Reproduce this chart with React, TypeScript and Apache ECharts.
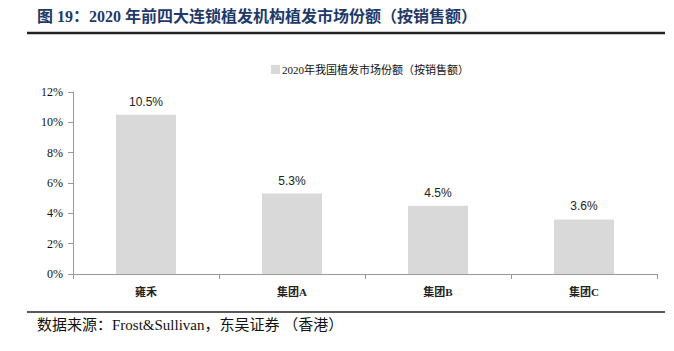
import React, { useEffect, useRef } from "react";
import * as echarts from "echarts";

const categories = ["雍禾", "集团A", "集团B", "集团C"];
const shareValues = [10.5, 5.3, 4.5, 3.6];
const seriesName = "2020年我国植发市场份额（按销售额）";
const titleText = "图 19：2020 年前四大连锁植发机构植发市场份额（按销售额）";
const sourceText = "数据来源：Frost&Sullivan，东吴证券 （香港）";

const SERIF = "'Liberation Serif', 'Noto Sans CJK SC', serif";

export default function App() {
  const ref = useRef<HTMLDivElement>(null);
  useEffect(() => {
    if (!ref.current) return;
    const chart = echarts.init(ref.current, null, { renderer: "svg" });
    chart.setOption({
      animation: false,
      backgroundColor: "#ffffff",
      legend: {
        top: 59,
        left: 266,
        itemWidth: 9,
        itemHeight: 9,
        itemGap: 4,
        icon: "rect",
        textStyle: { fontFamily: SERIF, fontSize: 11, color: "#111", padding: [0, 0, 0, -3] },
        data: [seriesName],
      },
      grid: { left: 73, right: 17, top: 92, bottom: 77, containLabel: false },
      xAxis: {
        type: "category",
        data: categories,
        axisLine: { lineStyle: { color: "#999" } },
        axisTick: { show: true, alignWithLabel: false, lineStyle: { color: "#999" } },
        axisLabel: { fontFamily: SERIF, fontSize: 11, color: "#222", fontWeight: "bold", margin: 12 },
      },
      yAxis: {
        type: "value",
        min: 0,
        max: 12,
        interval: 2,
        axisLine: { show: true, lineStyle: { color: "#999" } },
        axisTick: { show: true, lineStyle: { color: "#999" } },
        splitLine: { show: false },
        axisLabel: { formatter: "{value}%", fontFamily: SERIF, fontSize: 12, color: "#111", margin: 10 },
      },
      series: [
        {
          name: seriesName,
          type: "bar",
          data: shareValues,
          barWidth: 60,
          itemStyle: { color: "#d9d9d9" },
          label: {
            show: true,
            position: "top",
            distance: 7,
            formatter: (p: any) => p.value.toFixed(1) + "%",
            fontFamily: "'Liberation Sans', Arial, sans-serif",
            fontSize: 12,
            color: "#222",
          },
        },
      ],
      graphic: [
        {
          type: "text",
          left: 37,
          top: 8,
          style: {
            text: titleText,
            fontFamily: SERIF,
            fontSize: 16,
            fontWeight: "bold",
            fill: "#1f3a68",
          },
        },
        {
          type: "line",
          shape: { x1: 27, y1: 33, x2: 665, y2: 33 },
          style: { stroke: "#222", lineWidth: 2.5 },
        },
        {
          type: "line",
          shape: { x1: 27, y1: 312, x2: 665, y2: 312 },
          style: { stroke: "#222", lineWidth: 1.5 },
        },
        {
          type: "text",
          left: 37,
          top: 317,
          style: {
            text: sourceText,
            fontFamily: SERIF,
            fontSize: 15,
            fill: "#111",
          },
        },
      ],
    });
    return () => chart.dispose();
  }, []);
  return <div ref={ref} style={{ width: 674, height: 351, position: "absolute", left: 0, top: 0 }} />;
}
